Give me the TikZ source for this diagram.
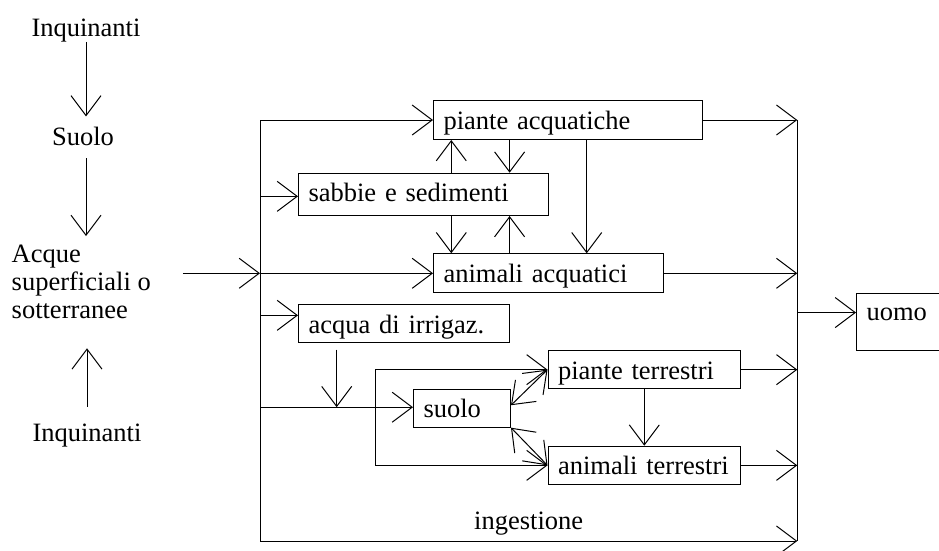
\documentclass[tikz,border=0pt]{standalone}
\usepackage{fontspec}
\setmainfont{Liberation Serif}
\usetikzlibrary{arrows.meta,calc}

\tikzset{
  lbl/.style={inner sep=0pt, font=\fontsize{26.5pt}{28pt}\selectfont},
  box/.style={draw, line width=1pt, anchor=north west, inner xsep=10pt, inner ysep=0pt,
              text height=28.5pt, text depth=10.5pt, align=left,
              font=\fontsize{26.5pt}{28pt}\selectfont},
  link/.style={line width=1pt},
  arr/.style={link, -{Straight Barb[length=20pt,width=30pt]}},
  darr/.style={link, {Straight Barb[length=20pt,width=30pt]}-{Straight Barb[length=20pt,width=30pt]}},
}

\begin{document}
\begin{tikzpicture}[x=1pt, y=-1pt]
  \clip (0,0) rectangle (939,550);
  \fill[white] (0,0) rectangle (939,550);

  % left column: sources
  \node[lbl, anchor=base] (iq1) at (86,36) {Inquinanti};
  \node[lbl, anchor=base] (sl) at (83,145) {Suolo};
  \node[lbl, anchor=north west, align=left] (aq) at (11.5,245) {Acque\\superficiali o\\sotterranee};
  \node[lbl, anchor=base] (iq2) at (87,441.7) {Inquinanti};

  % compartments
  \node[box, text width=249.3pt] (pa) at (433,100) {piante acquatiche};
  \node[box, text width=230pt, text depth=13.8pt] (ss) at (298,172.7) {sabbie e sedimenti};
  \node[box, text width=210.3pt] (aa) at (433,253.3) {animali acquatici};
  \node[box, text width=191pt, text depth=9.2pt] (ai) at (298,304) {acqua di irrigaz.};
  \node[box, text width=77pt, text depth=9.5pt] (su) at (413,388.7) {suolo};
  \node[box, text width=172.7pt, text depth=9.8pt] (pt) at (547.5,350) {piante terrestri};
  \node[box, text width=172.7pt, text depth=9.8pt] (at) at (547.5,445.7) {animali terrestri};
  \node[box, text width=69pt, text height=27pt, text depth=30.3pt] (uomo) at (856,292.7) {uomo};

  % reference columns for the connectors
  \coordinate (fl) at (260,541);
  \coordinate (fr) at (797.3,541);
  \coordinate (xA) at (451.3,0);
  \coordinate (xB) at (509.6,0);
  \coordinate (xC) at (586.7,0);
  \coordinate (xD) at (644.3,0);
  \coordinate (xE) at (336.7,0);
  \coordinate (xF) at (375.3,0);

  % left column arrows
  \draw[arr, shorten >=10pt] (iq1.south) -- (iq1.south |- sl.north);
  \draw[arr, shorten <=13pt, shorten >=9pt] (iq1.south |- sl.south) -- (iq1.south |- aq.north);
  \draw[arr, shorten <=17pt] (iq2.north) -- (iq2.north |- 0,348.3);
  \draw[arr] ($(aq.east |- aa.west)+(32,0)$) -- (aa.west -| fl);

  % distribution frame
  \draw[link] (pa.west -| fl) -- (fl);
  \draw[link] (pa.east -| fr) -- (fr);
  \draw[arr] (fl) -- node[lbl, above=5pt] (ing) {ingestione} (fr);

  % inputs from the left line
  \draw[arr] (pa.west -| fl) -- (pa.west);
  \draw[arr] ([yshift=-2pt]ss.west -| fl) -- ([yshift=-2pt]ss.west);
  \draw[arr] (aa.west -| fl) -- (aa.west);
  \draw[arr] ([yshift=8pt]ai.west -| fl) -- ([yshift=8pt]ai.west);
  \draw[arr] ([yshift=1pt]su.west -| fl) -- ([yshift=1pt]su.west);

  % aquatic exchanges
  \draw[arr] (ss.north -| xA) -- (pa.south -| xA);
  \draw[arr] (pa.south -| xB) -- (ss.north -| xB);
  \draw[arr] (ss.south -| xA) -- (aa.north -| xA);
  \draw[arr] (aa.north -| xB) -- (ss.south -| xB);
  \draw[arr] (pa.south -| xC) -- (aa.north -| xC);

  % irrigation and soil
  \draw[arr, shorten <=7pt] (ai.south -| xE) -- ([yshift=1pt]su.west -| xE);
  \draw[arr] ([yshift=1pt]su.west -| xF) |- (pt.west);
  \draw[arr] ([yshift=1pt]su.west -| xF) |- (at.west);
  \draw[darr] ([yshift=3pt]su.east) -- (pt.west);
  \draw[darr] (su.south east) -- (at.west);
  \draw[arr] (pt.south -| xD) -- (at.north -| xD);

  % outputs to the right line
  \draw[arr] (pa.east) -- (pa.east -| fr);
  \draw[arr] (aa.east) -- (aa.east -| fr);
  \draw[arr] (pt.east) -- (pt.east -| fr);
  \draw[arr] (at.east) -- (at.east -| fr);
  \draw[arr] ([yshift=9.3pt]uomo.west -| fr) -- ([yshift=9.3pt]uomo.west);
\end{tikzpicture}
\end{document}
